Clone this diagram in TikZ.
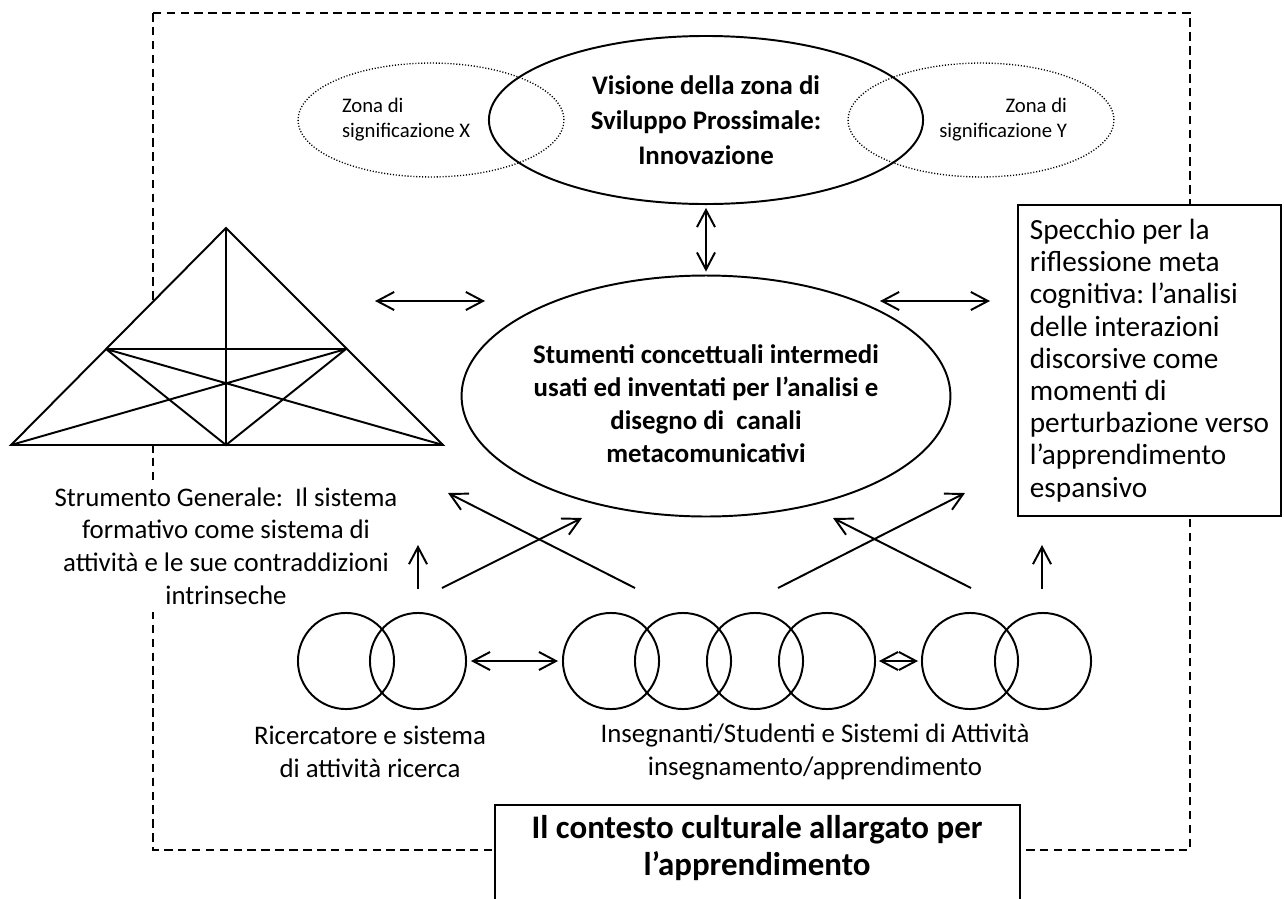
\documentclass[tikz,border=0pt]{standalone}
\usepackage{fontspec}
\setmainfont{Carlito}
\usetikzlibrary{shapes.geometric,arrows.meta}
\frenchspacing

\begin{document}
\begin{tikzpicture}[x=0.41pt,y=-0.41pt,
  every node/.style={inner sep=0pt, outer sep=0pt},
  outline/.style={draw=black, line width=0.8pt},
  barb/.tip={Straight Barb[length=7pt,width=7.4pt]},
  conn/.style={line width=0.8pt, -barb},
  biconn/.style={line width=0.8pt, barb-barb},
  frame/.style={line width=0.6pt, dash pattern=on 3.5pt off 2.2pt},
  zone/.style={ellipse, draw, line width=0.55pt, dash pattern=on 0.45pt off 0.75pt,
               minimum width=109pt, minimum height=46.7pt},
  bigellipse/.style={ellipse, draw, line width=0.8pt, minimum width=178pt, align=center,
                     font=\fontsize{11}{13.4}\selectfont\bfseries},
  ring/.style={circle, draw, line width=0.8pt, minimum size=39.4pt},
  caption/.style={align=center, font=\fontsize{11}{13.4}\selectfont},
  zonetext/.style={font=\fontsize{8.5}{10.3}\selectfont},
]
\useasboundingbox (0,0) rectangle (1284,898);
\fill[white] (0,0) rectangle (1284,898);

% outer dashed frame: the wider cultural context
\draw[frame] (153,13) rectangle (1190,850);

% meaning zones beside the vision ellipse
\node[zone] (zx) at (431,120) {};
\node[zone] (zy) at (981,120) {};
\node[zonetext, anchor=west, align=left] (zxt) at (342,120) {Zona di\\significazione X};
\node[zonetext, anchor=east, align=right] (zyt) at (1067,120) {Zona di\\significazione Y};

% vision of the zone of proximal development
\node[bigellipse, minimum height=68.9pt,
      font=\fontsize{11}{14.4}\selectfont\bfseries] (vis) at (706,120)
  {Visione della zona di\\Sviluppo Prossimale:\\Innovazione};

% intermediate conceptual tools
\node[bigellipse, minimum height=98.8pt] (stu) at (706,396)
  {\rule{0pt}{14pt}Stumenti concettuali intermedi\\usati ed inventati per l’analisi e\\disegno di~ canali\\metacomunicativi};

\draw[biconn, shorten <=1.6pt, shorten >=1.6pt] (vis.south) -- (stu.north);

% activity-system triangle
\coordinate (apex) at (226,228);
\coordinate (bl) at (11,445);
\coordinate (br) at (443,445);
\coordinate (ml) at (106,349);
\coordinate (mr) at (346,349);
\coordinate (bm) at (226,445);
\draw[outline, fill=white, line join=miter] (apex) -- (br) -- (bl) -- cycle;
\draw[outline] (apex) -- (bm) (ml) -- (mr) (ml) -- (bm) -- (mr) (ml) -- (br) (mr) -- (bl);

\node[caption, fill=white, inner xsep=2pt, inner ysep=3pt] (gen) at (226,546)
  {Strumento Generale:~ Il sistema\\formativo come sistema di\\attività e le sue contraddizioni\\intrinseche};

% mirror box on the right
\node[draw, line width=0.8pt, fill=white, minimum width=107.8pt, minimum height=127.5pt,
      align=left, font=\fontsize{12}{13.2}\selectfont] (mir) at (1149.5,360.5)
  {Specchio per la\\riflessione meta\\cognitiva: l’analisi\\delle interazioni\\discorsive come\\momenti di\\perturbazione verso\\l’apprendimento\\espansivo};

% side arrows towards the central ellipse
\coordinate (la1) at (375,301);
\coordinate (la2) at (485,301);
\coordinate (ra1) at (880,301);
\coordinate (ra2) at (990,301);
\draw[biconn] (la1) -- (la2);
\draw[biconn] (ra1) -- (ra2);

% overlapping activity systems
\node[ring] (c1) at (346,661) {};
\node[ring] (c2) at (418,661) {};
\node[ring] (c3) at (611,661) {};
\node[ring] (c4) at (683,661) {};
\node[ring] (c5) at (755,661) {};
\node[ring] (c6) at (827,661) {};
\node[ring] (c7) at (970,661) {};
\node[ring] (c8) at (1043,661) {};
\draw[biconn, shorten <=2pt, shorten >=2pt] (c2.east) -- (c3.west);
\draw[biconn, shorten <=1.6pt, shorten >=1.6pt] (c6.east) -- (c7.west);

\node[caption] (ric) at (370,752) {Ricercatore e sistema\\di attività ricerca};
\node[caption] (ins) at (815,752) {Insegnanti/Studenti e Sistemi di Attività\\insegnamento/apprendimento};

% upward arrows from the activity systems
\coordinate (u1a) at (418,589);
\coordinate (u1b) at (418,545);
\coordinate (u2a) at (1042,589);
\coordinate (u2b) at (1042,545);
\draw[conn] (u1a) -- (u1b);
\draw[conn] (u2a) -- (u2b);

\coordinate (d1a) at (442,588);
\coordinate (d1b) at (582,518);
\coordinate (d2a) at (635,588);
\coordinate (d2b) at (448,493);
\coordinate (d3a) at (778,588);
\coordinate (d3b) at (965,493);
\coordinate (d4a) at (971,588);
\coordinate (d4b) at (833,518);
\draw[conn] (d1a) -- (d1b);
\draw[conn] (d2a) -- (d2b);
\draw[conn] (d3a) -- (d3b);
\draw[conn] (d4a) -- (d4b);

% title box at the bottom
\draw[outline, line width=1pt, fill=white] (495,960) -- (495,805) -- (1020,805) -- (1020,960);
\node[align=center, font=\fontsize{13.5}{15.2}\selectfont\bfseries] (ctx) at (757,848)
  {Il contesto culturale allargato per\\l’apprendimento};
\end{tikzpicture}
\end{document}
